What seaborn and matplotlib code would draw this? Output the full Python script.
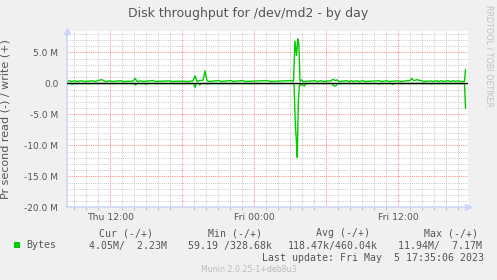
import matplotlib
matplotlib.use("Agg")
import matplotlib.pyplot as plt
from matplotlib.ticker import MultipleLocator
from matplotlib.patches import Rectangle
import seaborn as sns
import pandas as pd

# ---- data (hours since Thu 00:00, values in MB/s) ----
write_hours = [8.40, 8.56, 8.73, 9.06, 9.22, 9.64, 9.81, 10.56, 10.73, 11.28, 11.43, 11.56,
               11.98, 12.14, 12.89, 13.06, 13.89, 14.06, 14.23, 14.56, 14.73, 15.56, 15.73,
               16.98, 17.14, 17.89, 18.47, 18.89, 19.06, 19.22, 19.47, 19.73, 19.89, 20.06,
               20.22, 21.08, 21.23, 22.06, 22.23, 23.03, 23.23, 25.12, 25.31, 27.12, 27.27,
               27.39, 27.52, 27.63, 27.71, 27.81, 27.95, 28.06, 29.06, 29.23, 29.56, 29.73,
               30.39, 30.56, 30.73, 30.89, 31.06, 31.70, 31.85, 32.12, 32.27, 32.53, 32.68,
               33.08, 33.22, 34.42, 34.56, 35.03, 35.18, 36.00, 36.14, 36.98, 37.12, 37.27,
               37.43, 37.58, 37.77, 37.95, 38.10, 38.78, 38.93, 39.20, 39.35, 39.62, 39.77,
               40.17, 40.31, 40.58, 40.72, 41.00, 41.14, 41.52, 41.60]
write_values = [0.30, 0.42, 0.30, 0.40, 0.30, 0.42, 0.30, 0.40, 0.30, 0.60, 0.45, 0.30,
                0.40, 0.30, 0.42, 0.30, 0.35, 0.80, 0.30, 0.40, 0.30, 0.45, 0.30,
                0.40, 0.30, 0.35, 0.30, 0.40, 1.20, 0.30, 0.45, 0.50, 2.00, 0.40,
                0.30, 0.45, 0.30, 0.45, 0.30, 0.45, 0.30, 0.45, 0.30, 0.45, 0.30,
                6.80, 4.50, 7.17, 6.50, 0.30, 0.55, 0.30, 0.42, 0.30, 0.42, 0.30,
                0.40, 0.65, 0.45, 0.55, 0.30, 0.42, 0.30, 0.42, 0.30, 0.42, 0.30,
                0.42, 0.30, 0.42, 0.30, 0.42, 0.30, 0.40, 0.30, 0.45, 0.80, 0.45,
                0.50, 0.60, 0.45, 0.45, 0.30, 0.38, 0.30, 0.42, 0.30, 0.42, 0.30,
                0.42, 0.30, 0.42, 0.30, 0.42, 0.30, 0.30, 2.23]

read_hours = [8.40, 8.73, 8.83, 8.93, 13.98, 14.10, 14.23, 14.89, 14.98, 15.06, 18.93, 19.06,
              19.18, 19.39, 19.47, 19.56, 20.06, 20.14, 20.22, 27.31, 27.42, 27.50, 27.58,
              27.67, 27.77, 27.89, 28.01, 28.17, 28.31, 30.48, 30.64, 30.81, 30.93, 34.35,
              34.42, 34.50, 35.48, 35.53, 35.60, 38.73, 38.78, 38.85, 41.52, 41.60]
read_values = [0.03, 0.03, 0.16, 0.03, 0.03, 0.27, 0.03, 0.03, 0.20, 0.03, 0.03, 0.65,
               0.03, 0.03, 0.27, 0.03, 0.03, 0.12, 0.03, 0.03, 6.50, 9.00, 11.94,
               3.00, 0.03, 0.30, 0.25, 0.43, 0.03, 0.03, 0.43, 0.40, 0.03, 0.03,
               0.16, 0.03, 0.03, 0.20, 0.03, 0.03, 0.15, 0.03, 0.03, 4.05]

xtick_values = [12, 18, 24, 30, 36]
xtick_labels = ["Thu 12:00", "", "Fri 00:00", "", "Fri 12:00"]
ytick_values = [-20, -15, -10, -5, 0, 5]
ytick_labels = ["-20.0 M", "-15.0 M", "-10.0 M", "-5.0 M", "0.0", "5.0 M"]

title = "Disk throughput for /dev/md2 - by day"
ylabel = "Pr second read (-) / write (+)"
legend_name = "Bytes"
col_headers = ["Cur (-/+)", "Min (-/+)", "Avg (-/+)", "Max (-/+)"]
col_values = ["4.05M/  2.23M", "59.19 /328.68k", "118.47k/460.04k", "11.94M/  7.17M"]
last_update = "Last update: Fri May  5 17:35:06 2023"
munin_ver = "Munin 2.0.25-1+deb8u3"
side_text = "RRDTOOL / TOBI OETIKER"

# ---- style ----
sns.set_theme(style="white")
plt.rcParams["font.family"] = ["DejaVu Sans"]
GREEN = "#00CC00"
TXT = "#555555"
AXC = "#CFD6F8"

W, H = 497, 280
fig = plt.figure(figsize=(W / 100, H / 100), dpi=100, facecolor="#F0F0F0")

def fx(px):
    return px / W

def fy(py):
    return 1 - py / H

left, right, top, bottom = 66.7, 468.0, 31.0, 207.3
ax = fig.add_axes([fx(left), fy(bottom), fx(right - left), (bottom - top) / H])
ax.set_facecolor("white")

df_w = pd.DataFrame({"hour": write_hours, "value": write_values})
df_r = pd.DataFrame({"hour": read_hours, "value": [-v for v in read_values]})

# grid
ax.set_xlim(8.367, 41.81)
ax.set_ylim(-20, 8.44)
ax.set_xticks(xtick_values, xtick_labels)
ax.set_yticks(ytick_values, ytick_labels)
ax.xaxis.set_minor_locator(MultipleLocator(1))
ax.yaxis.set_minor_locator(MultipleLocator(1))
ax.grid(which="minor", color="#C8C8C8", linestyle=(0, (1, 1.2)), linewidth=0.7)
ax.grid(which="major", color="#FF8080", linestyle=(0, (1, 1.2)), linewidth=0.7)
ax.set_axisbelow(True)

sns.lineplot(data=df_w, x="hour", y="value", ax=ax, color=GREEN, linewidth=1.0,
             estimator=None, sort=False)
sns.lineplot(data=df_r, x="hour", y="value", ax=ax, color=GREEN, linewidth=1.0,
             estimator=None, sort=False)
ax.axhline(0, color="black", linewidth=1.0, zorder=3)

ax.set_xlabel("")
ax.set_ylabel(ylabel, fontsize=8, color=TXT, labelpad=4)
ax.yaxis.set_label_coords(fx(10.5 - left) / fx(right - left) if False else (10.5 - left) / (right - left),
                          (bottom - 119.5) / (bottom - top))

for s in ["top", "right"]:
    ax.spines[s].set_visible(False)
for s in ["left", "bottom"]:
    ax.spines[s].set_color(AXC)
    ax.spines[s].set_linewidth(1.2)

ax.tick_params(axis="x", which="major", length=2, color="#FF8080", labelsize=6.7,
               labelcolor=TXT, pad=2)
ax.tick_params(axis="x", which="minor", length=2, color="#C8C8C8", bottom=True)
ax.tick_params(axis="y", which="major", length=0, labelsize=6.5, labelcolor=TXT, pad=6)
ax.tick_params(axis="y", which="minor", length=0)

# axis arrows
ax.plot([0], [1.0], marker="^", markersize=5, color=AXC, transform=ax.transAxes,
        clip_on=False)
ax.plot([1.0], [0], marker=">", markersize=5, color=AXC, transform=ax.transAxes,
        clip_on=False)
ax.plot([0, 0], [0.97, 1.0], color=AXC, lw=1.2, transform=ax.transAxes, clip_on=False)
ax.plot([1.0, 1.01], [0, 0], color=AXC, lw=1.2, transform=ax.transAxes, clip_on=False)

# title and side text
fig.text(fx(248.5), fy(13.5), title, ha="center", va="center", fontsize=9, color=TXT)
fig.text(fx(488.5), fy(56.5), side_text, ha="center", va="center", fontsize=5.8,
         color="#C0C0C0", rotation=270)

# legend block
MONO = ["DejaVu Sans Mono"]
fig.patches.append(Rectangle((fx(14), fy(248.3)), 6 / W, 6 / H, transform=fig.transFigure,
                             facecolor=GREEN, edgecolor="none", figure=fig))
fig.text(fx(26.7), fy(245.5), legend_name, ha="left", va="center", fontsize=7.1,
         color=TXT, family=MONO)
for x, t in zip([99.0, 207.7, 316.0, 424.0], col_headers):
    fig.text(fx(x), fy(233.3), t, ha="left", va="center", fontsize=7.1, color=TXT,
             family=MONO)
for x, t in zip([89.3, 188.3, 287.7, 398.3], col_values):
    fig.text(fx(x), fy(245.5), t, ha="left", va="center", fontsize=7.1, color=TXT,
             family=MONO)
fig.text(fx(261.7), fy(257.7), last_update, ha="left", va="center", fontsize=7.1,
         color=TXT, family=MONO)
fig.text(fx(248.5), fy(269), munin_ver, ha="center", va="center", fontsize=5.7,
         color="#BBBBBB")

fig.savefig("out.png", dpi=100, facecolor=fig.get_facecolor())
